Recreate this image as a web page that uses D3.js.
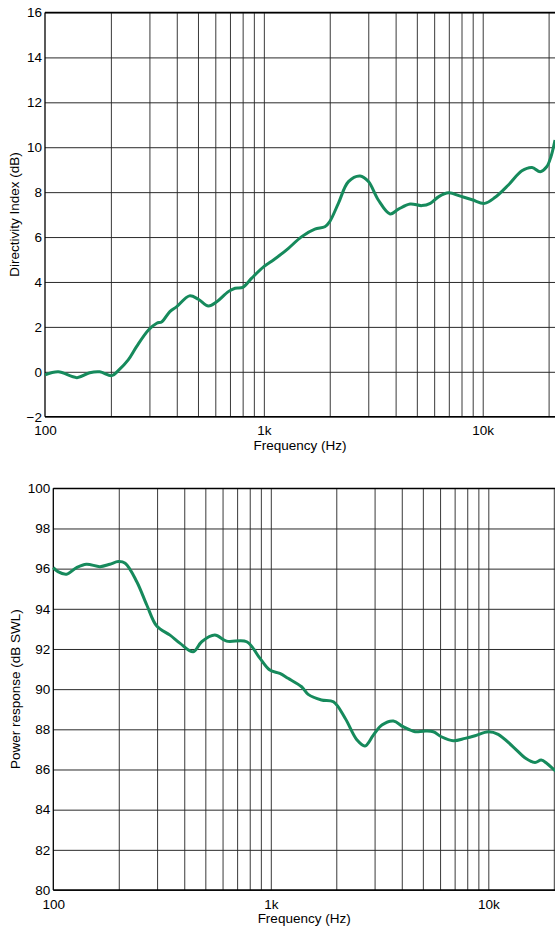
<!DOCTYPE html>
<html>
<head>
<meta charset="utf-8">
<script src="https://cdn.jsdelivr.net/npm/d3@7"></script>
<style>
  body { margin: 0; background: #fff; }
  svg { display: block; font-family: "Liberation Sans", Arial, sans-serif; }
</style>
</head>
<body>
<div id="chart"></div>
<script>
// Frequency (Hz) and value pairs
const diFreq = [100, 115, 140, 160, 178, 202, 216, 240, 262, 297, 324, 342, 372, 400, 457, 502, 558, 609, 688, 739, 801, 880, 1000, 1106, 1186, 1295, 1490, 1710, 1900, 2000, 2190, 2435, 2755, 3005, 3334, 3775, 4120, 4660, 5270, 5760, 6300, 6990, 7910, 8950, 10200, 11400, 13100, 15100, 16800, 18300, 19600, 20500, 21400];
const diValue = [-0.14, 0.0, -0.26, -0.04, 0.0, -0.17, 0.05, 0.53, 1.12, 1.86, 2.16, 2.23, 2.68, 2.9, 3.38, 3.23, 2.93, 3.12, 3.57, 3.72, 3.76, 4.17, 4.68, 4.98, 5.2, 5.5, 6.02, 6.35, 6.46, 6.69, 7.5, 8.47, 8.72, 8.47, 7.65, 7.03, 7.24, 7.47, 7.4, 7.5, 7.8, 7.97, 7.82, 7.66, 7.5, 7.77, 8.32, 8.95, 9.1, 8.91, 9.13, 9.58, 10.32];

const prFreq = [100, 105, 115, 128, 142, 164, 182, 199, 214, 242, 269, 299, 344, 383, 440, 481, 553, 626, 775, 892, 990, 1100, 1200, 1385, 1485, 1710, 1940, 2200, 2490, 2710, 2960, 3240, 3660, 4060, 4610, 5040, 5590, 6080, 6900, 7820, 8690, 9990, 11100, 13000, 14900, 16400, 17500, 18600, 19900, 20500];
const prValue = [96.05, 95.85, 95.72, 96.05, 96.22, 96.1, 96.22, 96.35, 96.27, 95.35, 94.19, 93.14, 92.69, 92.28, 91.86, 92.36, 92.69, 92.39, 92.36, 91.53, 90.95, 90.78, 90.54, 90.12, 89.74, 89.46, 89.37, 88.54, 87.47, 87.17, 87.71, 88.21, 88.41, 88.13, 87.88, 87.91, 87.88, 87.63, 87.43, 87.55, 87.68, 87.88, 87.75, 87.13, 86.55, 86.35, 86.47, 86.3, 86.02, 85.9];

const freqTicks = [100, 1000, 10000];
const freqLabels = ["100", "1k", "10k"];
const gridFreqs = [200, 300, 400, 500, 600, 700, 800, 900, 1000, 2000, 3000, 4000, 5000, 6000, 7000, 8000, 9000, 10000, 20000];
const diTicks = [-2, 0, 2, 4, 6, 8, 10, 12, 14, 16];
const prTicks = [80, 82, 84, 86, 88, 90, 92, 94, 96, 98, 100];

const width = 555;
const height = 929;

const svg = d3.select("#chart")
    .append("svg")
    .attr("width", width)
    .attr("height", height);

// Draw one log-frequency panel
function drawPanel(opts) {
    const x = d3.scaleLog().domain([100, 20000]).range(opts.xRange);
    const y = d3.scaleLinear().domain(opts.yDomain).range(opts.yRange);
    const xEnd = x(30000); // plot runs on past the picture's right edge
    const top = y(opts.yDomain[1]);
    const bottom = y(opts.yDomain[0]);

    const g = svg.append("g");

    // vertical grid
    g.append("g")
        .attr("transform", `translate(0,${bottom})`)
        .call(d3.axisBottom(x).tickValues(gridFreqs).tickSize(-(bottom - top)).tickFormat(""))
        .call(a => a.select(".domain").remove())
        .selectAll("line")
        .attr("stroke", "#3a3a3a")
        .attr("stroke-width", 1);

    // horizontal grid
    g.append("g")
        .attr("transform", `translate(${x(100)},0)`)
        .call(d3.axisLeft(y).tickValues(opts.yTicks).tickSize(-(xEnd - x(100))).tickFormat(""))
        .call(a => a.select(".domain").remove())
        .selectAll("line")
        .attr("stroke", "#2a2a2a")
        .attr("stroke-width", 1);

    // frame
    g.append("line").attr("x1", x(100)).attr("x2", x(100)).attr("y1", top).attr("y2", bottom)
        .attr("stroke", "#000").attr("stroke-width", 1.3);
    g.append("line").attr("x1", x(100)).attr("x2", xEnd).attr("y1", bottom).attr("y2", bottom)
        .attr("stroke", "#000").attr("stroke-width", 1.3);
    g.append("line").attr("x1", x(100)).attr("x2", xEnd).attr("y1", top).attr("y2", top)
        .attr("stroke", "#000").attr("stroke-width", 1.3);

    // tick labels
    g.append("g")
        .attr("transform", `translate(0,${bottom})`)
        .call(d3.axisBottom(x).tickValues(freqTicks).tickSize(0).tickPadding(9)
            .tickFormat((d, i) => freqLabels[i]))
        .call(a => a.select(".domain").remove())
        .selectAll("text")
        .attr("font-family", "Liberation Sans, Arial, sans-serif")
        .attr("font-size", "13.5px")
        .attr("fill", "#000");

    g.append("g")
        .attr("transform", `translate(${x(100)},0)`)
        .call(d3.axisLeft(y).tickValues(opts.yTicks).tickSize(0).tickPadding(3))
        .call(a => a.select(".domain").remove())
        .selectAll("text")
        .attr("font-family", "Liberation Sans, Arial, sans-serif")
        .attr("font-size", "13.5px")
        .attr("fill", "#000");

    // axis titles
    g.append("text")
        .attr("x", (x(100) + width) / 2)
        .attr("y", bottom + 33)
        .attr("text-anchor", "middle")
        .attr("font-size", "13.5px")
        .text("Frequency (Hz)");

    g.append("text")
        .attr("transform", `translate(${opts.titleX},${(top + bottom) / 2}) rotate(-90)`)
        .attr("text-anchor", "middle")
        .attr("font-size", "13.5px")
        .text(opts.title);

    // response curve
    const line = d3.line()
        .x((d, i) => x(opts.freq[i]))
        .y(d => y(d))
        .curve(d3.curveCatmullRom.alpha(0.5));

    g.append("path")
        .datum(opts.values)
        .attr("d", line)
        .attr("fill", "none")
        .attr("stroke", "#168a5c")
        .attr("stroke-width", 3)
        .attr("stroke-linejoin", "round");
}

drawPanel({
    xRange: [45, 548.6],
    yDomain: [-2, 16],
    yRange: [416.7, 12.5],
    yTicks: diTicks,
    freq: diFreq,
    values: diValue,
    title: "Directivity Index (dB)",
    titleX: 19
});

drawPanel({
    xRange: [53.3, 553.8],
    yDomain: [80, 100],
    yRange: [890, 488.3],
    yTicks: prTicks,
    freq: prFreq,
    values: prValue,
    title: "Power response (dB SWL)",
    titleX: 20
});
</script>
</body>
</html>
